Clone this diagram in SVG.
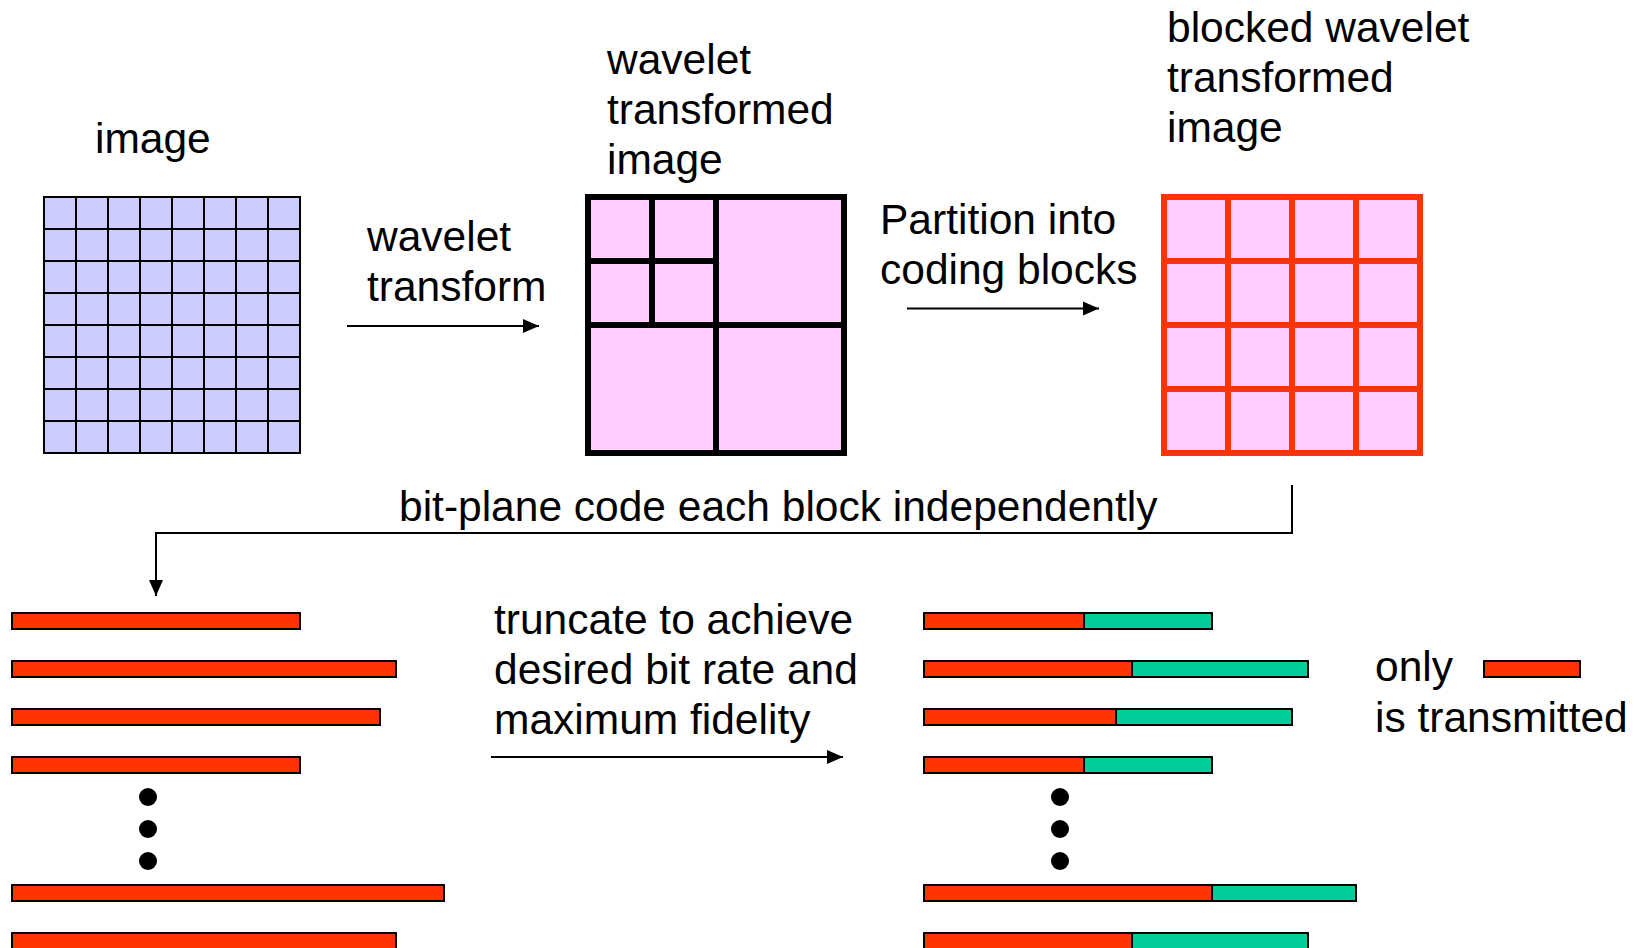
<svg xmlns="http://www.w3.org/2000/svg" width="1647" height="948" viewBox="0 0 1647 948">
<style>
text{font-family:"Liberation Sans",Arial,Helvetica,sans-serif;font-size:42.5px;fill:#000}
.grid{fill:none;stroke:#000;stroke-width:2}
.red{fill:#FF3300;stroke:#000;stroke-width:2}
.grn{fill:#00CC99;stroke:#000;stroke-width:2}
.conn{fill:none;stroke:#000;stroke-width:2}
.dot{fill:#000}
</style>
<defs>
<marker id="ah" markerUnits="userSpaceOnUse" markerWidth="16" markerHeight="14" refX="16" refY="7" orient="auto" overflow="visible">
<path d="M0,0 L16,7 L0,14 z" fill="#000"/>
</marker>
</defs>
<rect width="1647" height="948" fill="#fff"/>

<g id="image">
<text x="95" y="153">image</text>
<rect x="44" y="197" width="256" height="256" fill="#CCCCFF"/>
<path class="grid" d="M44,197H300V453H44Z M76,197V453 M108,197V453 M140,197V453 M172,197V453 M204,197V453 M236,197V453 M268,197V453 M44,229H300 M44,261H300 M44,293H300 M44,325H300 M44,357H300 M44,389H300 M44,421H300"/>
</g>

<g id="wavelet-image">
<text x="607" y="74">wavelet</text>
<text x="607" y="124">transformed</text>
<text x="607" y="174">image</text>
<rect x="588" y="197" width="256" height="256" fill="#FFCCFF" stroke="#000" stroke-width="6"/>
<path d="M716,197V453 M588,325H844 M652,197V325 M588,261H716" fill="none" stroke="#000" stroke-width="6"/>
</g>

<g id="blocked-image">
<text x="1167" y="42">blocked wavelet</text>
<text x="1167" y="92">transformed</text>
<text x="1167" y="142">image</text>
<rect x="1164" y="197" width="256" height="256" fill="#FFCCFF" stroke="#FF3300" stroke-width="6"/>
<path d="M1228,197V453 M1292,197V453 M1356,197V453 M1164,261H1420 M1164,325H1420 M1164,389H1420" fill="none" stroke="#FF3300" stroke-width="6"/>
</g>

<g id="labels">
<text x="367" y="251">wavelet</text>
<text x="367" y="301">transform</text>
<text x="880" y="234">Partition into</text>
<text x="880" y="284">coding blocks</text>
<text x="399" y="521">bit-plane code each block independently</text>
<text x="494" y="634">truncate to achieve</text>
<text x="494" y="684">desired bit rate and</text>
<text x="494" y="734">maximum fidelity</text>
</g>

<g id="connectors">
<line class="conn" x1="347" y1="326" x2="539" y2="326" marker-end="url(#ah)"/>
<line class="conn" x1="907" y1="308.5" x2="1099" y2="308.5" marker-end="url(#ah)"/>
<polyline class="conn" points="1292,485 1292,533 156,533 156,596" marker-end="url(#ah)"/>
<line class="conn" x1="491" y1="757" x2="843" y2="757" marker-end="url(#ah)"/>
</g>

<g id="coded-blocks">
<rect class="red" x="12" y="613" width="288" height="16"/>
<rect class="red" x="12" y="661" width="384" height="16"/>
<rect class="red" x="12" y="709" width="368" height="16"/>
<rect class="red" x="12" y="757" width="288" height="16"/>
<circle class="dot" cx="148" cy="797" r="9"/>
<circle class="dot" cx="148" cy="829" r="9"/>
<circle class="dot" cx="148" cy="861" r="9"/>
<rect class="red" x="12" y="885" width="432" height="16"/>
<rect class="red" x="12" y="933" width="384" height="16"/>
</g>

<g id="truncated-blocks">
<rect class="red" x="924" y="613" width="160" height="16"/>
<rect class="grn" x="1084" y="613" width="128" height="16"/>
<rect class="red" x="924" y="661" width="208" height="16"/>
<rect class="grn" x="1132" y="661" width="176" height="16"/>
<rect class="red" x="924" y="709" width="192" height="16"/>
<rect class="grn" x="1116" y="709" width="176" height="16"/>
<rect class="red" x="924" y="757" width="160" height="16"/>
<rect class="grn" x="1084" y="757" width="128" height="16"/>
<circle class="dot" cx="1060" cy="797" r="9"/>
<circle class="dot" cx="1060" cy="829" r="9"/>
<circle class="dot" cx="1060" cy="861" r="9"/>
<rect class="red" x="924" y="885" width="288" height="16"/>
<rect class="grn" x="1212" y="885" width="144" height="16"/>
<rect class="red" x="924" y="933" width="208" height="16"/>
<rect class="grn" x="1132" y="933" width="176" height="16"/>
</g>

<g id="legend">
<text x="1375" y="681">only</text>
<rect class="red" x="1484" y="661" width="96" height="16"/>
<text x="1375" y="732">is transmitted</text>
</g>
</svg>
